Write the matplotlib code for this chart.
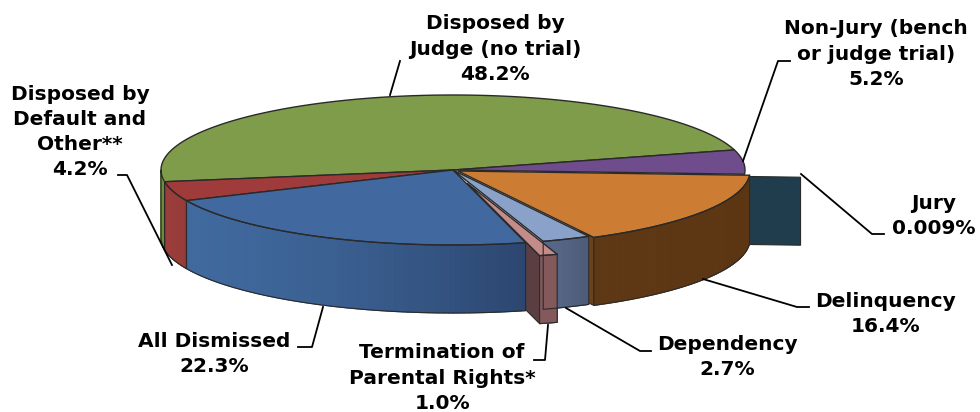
import numpy as np
import matplotlib
matplotlib.use('Agg')
import matplotlib.pyplot as plt
from matplotlib.colors import to_rgb

# slices, clockwise starting at the left edge of the green one
categories = ['Disposed by Judge', 'Non-Jury', 'Jury', 'Delinquency', 'Dependency',
              'Termination', 'All Dismissed', 'Default and Other']
values = [48.2, 5.2, 0.009, 16.4, 2.7, 1.0, 22.3, 4.2]
top_colors = ['#7f9c4a', '#6f4c8c', '#1f3d4c', '#cc7c33', '#8aa2c9', '#c48b8b', '#41699f', '#9f3c3b']
wall_left = ['#6f8a40', '#5a3d73', '#1f3d4c', '#5e3714', '#56688a', '#84595c', '#40699e', '#9a3d3b']
wall_right = ['#6f8a40', '#5a3d73', '#1f3d4c', '#5c3513', '#4d5a74', '#84595c', '#2c466f', '#963b39']
side_colors = ['#6f8a40', '#5a3d73', '#1f3d4c', '#6a4218', '#56688a', '#5a3e42', '#2c466f', '#963b39']

labels = ['Disposed by\nJudge (no trial)\n48.2%', 'Non-Jury (bench\nor judge trial)\n5.2%',
          'Jury\n0.009%', 'Delinquency\n16.4%', 'Dependency\n2.7%',
          'Termination of\nParental Rights*\n1.0%', 'All Dismissed\n22.3%',
          'Disposed by\nDefault and\nOther**\n4.2%']
label_pos = [(495, 49), (876, 54), (934, 216), (885, 314), (727, 357), (442, 378), (214, 354), (80, 132)]
leaders = [
    [(390, 95), (400, 61)],
    [(743, 161), (778, 61), (790, 61)],
    [(801, 174), (872, 234), (884, 234)],
    [(703, 279), (797, 307), (809, 307)],
    [(566, 308), (640, 351), (651, 351)],
    [(548, 325), (545, 360), (534, 360)],
    [(323, 307), (312, 347), (298, 347)],
    [(172, 265), (127, 175), (118, 175)],
]

# pie layout in pixels
cx, cy = 453, 170
rx, ry = 292, 75
depth = 68
start_angle = 189
explode = {'Jury': (56, 3), 'Delinquency': (5, 1), 'Termination': (14, 13)}

fig = plt.figure(figsize=(9.8, 4.12), dpi=100)
ax = fig.add_axes([0, 0, 1, 1])
ax.set_xlim(0, 980)
ax.set_ylim(412, 0)
ax.axis('off')

fractions = np.array(values) / np.sum(values)
ends = start_angle - np.cumsum(fractions) * 360
starts = np.concatenate([[start_angle], ends[:-1]])


def point(i, angle):
    dx, dy = explode.get(categories[i], (0, 0))
    t = np.radians(angle)
    return cx + dx + rx * np.cos(t), cy + dy - ry * np.sin(t)


def draw_top(i):
    dx, dy = explode.get(categories[i], (0, 0))
    t = np.linspace(starts[i], ends[i], 200)
    x, y = point(i, t)
    ax.fill(np.r_[cx + dx, x], np.r_[cy + dy, y], color=top_colors[i], ec='#2a2a2a', lw=1.0)


def draw_wall(i):
    # only the part of the rim that faces the viewer
    for lo, hi in [(-180, 0), (180, 360)]:
        a, b = min(starts[i], hi), max(ends[i], lo)
        if a <= b:
            continue
        t = np.linspace(a, b, 80)
        x, y = point(i, t)
        c0, c1 = np.array(to_rgb(wall_left[i])), np.array(to_rgb(wall_right[i]))
        left, right = x.min(), x.max()
        for k in range(len(t) - 1):
            f = (((x[k] + x[k + 1]) / 2 - left) / max(right - left, 1)) ** 1.5
            col = c0 + (c1 - c0) * f
            ax.fill([x[k], x[k + 1], x[k + 1], x[k]], [y[k], y[k + 1], y[k + 1] + depth, y[k] + depth],
                    color=col, ec=col, lw=0.8)
        ax.plot(np.r_[x, x[::-1], x[0]], np.r_[y, y[::-1] + depth, y[0]], color='#2a2a2a', lw=0.8)


def draw_side(i, angle, inner=0.0):
    # radial cut face of a pulled-out slice, inner is the hidden share of it
    dx, dy = explode.get(categories[i], (0, 0))
    x, y = point(i, angle)
    x0 = cx + dx + (x - cx - dx) * inner
    y0 = cy + dy + (y - cy - dy) * inner
    ax.fill([x0, x, x, x0], [y0, y, y + depth, y0 + depth],
            color=side_colors[i], ec='#2a2a2a', lw=0.8)


idx = {name: n for n, name in enumerate(categories)}
jury, green, purple = idx['Jury'], idx['Disposed by Judge'], idx['Non-Jury']
orange, light, pink = idx['Delinquency'], idx['Dependency'], idx['Termination']
blue, red = idx['All Dismissed'], idx['Default and Other']

draw_side(jury, starts[jury], inner=0.8)
draw_top(green)
draw_top(purple)
draw_wall(green)
draw_wall(red)
draw_top(red)
draw_side(pink, ends[pink], inner=0.8)
draw_side(orange, ends[orange], inner=0.9)
draw_wall(blue)
draw_top(blue)
draw_wall(light)
draw_top(light)
draw_wall(orange)
draw_top(orange)
draw_wall(pink)
draw_top(pink)

for pts in leaders:
    xs, ys = zip(*pts)
    ax.plot(xs, ys, color='black', lw=1.3, solid_joinstyle='round')

for text, (x, y) in zip(labels, label_pos):
    ax.text(x, y, text, ha='center', va='center', fontsize=14.5, fontweight='bold',
            family='DejaVu Sans', linespacing=1.42, color='black')

fig.savefig('out.png', dpi=100)
